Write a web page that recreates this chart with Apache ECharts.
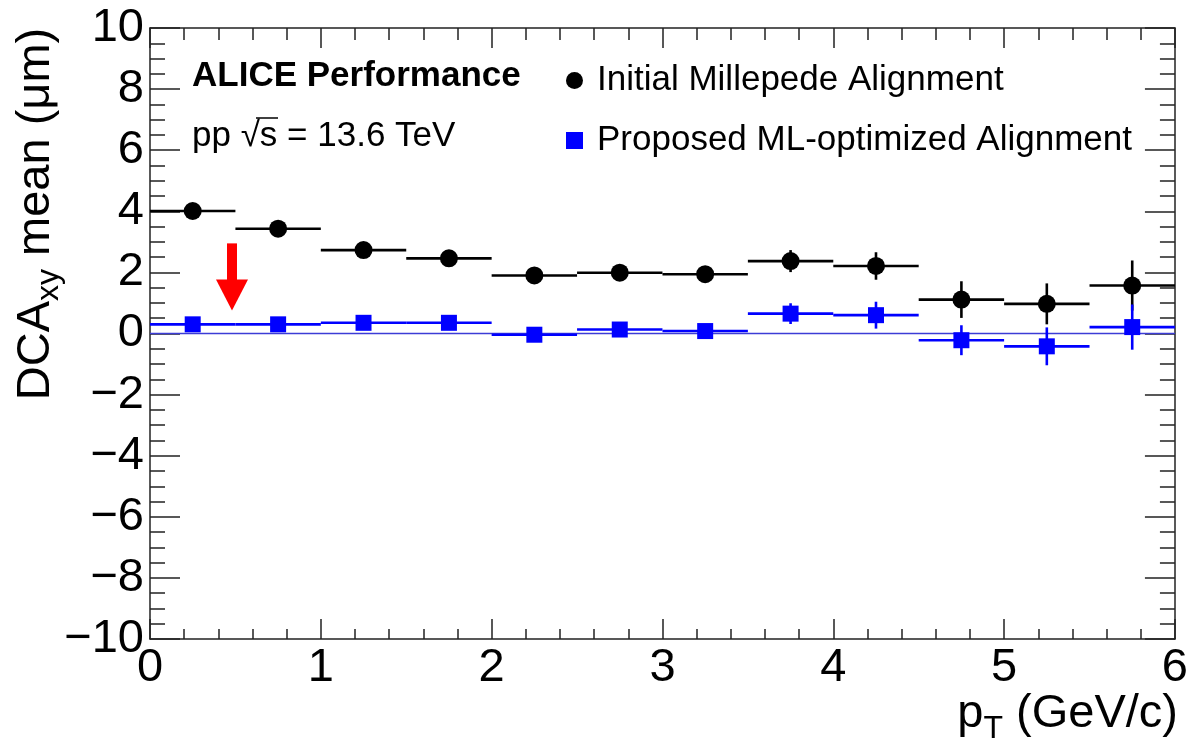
<!DOCTYPE html>
<html>
<head>
<meta charset="utf-8">
<script src="https://cdn.jsdelivr.net/npm/echarts@6/dist/echarts.min.js"></script>
<style>
html,body{margin:0;padding:0;background:#fff;}
#chart{width:1191px;height:755px;}
</style>
</head>
<body>
<div id="chart"></div>
<script>
// ---- data ----
const binCenters = [0.25, 0.75, 1.25, 1.75, 2.25, 2.75, 3.25, 3.75, 4.25, 4.75, 5.25, 5.75];
const binWidth = 0.5;
const milleMean = [4.01, 3.43, 2.73, 2.46, 1.90, 1.99, 1.94, 2.37, 2.21, 1.11, 0.97, 1.57];
const milleErr  = [0.08, 0.09, 0.10, 0.11, 0.12, 0.14, 0.16, 0.36, 0.45, 0.60, 0.67, 0.82];
const mlMean    = [0.30, 0.30, 0.35, 0.35, -0.04, 0.13, 0.08, 0.65, 0.60, -0.22, -0.42, 0.21];
const mlErr     = [0.07, 0.08, 0.09, 0.10, 0.12, 0.14, 0.16, 0.34, 0.44, 0.49, 0.62, 0.74];
const zeroLine  = [[0, 0], [6, 0]];
const arrowPt   = [0.48, 2.95, 0.75];   // x, top, tip
const xTicks = [0, 1, 2, 3, 4, 5, 6];
const yTicks = [-10, -8, -6, -4, -2, 0, 2, 4, 6, 8, 10];
const seriesNames = ['Initial Millepede Alignment', 'Proposed ML-optimized Alignment'];

const FONT = '"Liberation Sans", Arial, Helvetica, sans-serif';
const chart = echarts.init(document.getElementById('chart'), null, {renderer: 'canvas'});

function errData(xs, ys, es) { return xs.map((x, i) => [x, ys[i], es[i]]); }
function ptData(xs, ys) { return xs.map((x, i) => [x, ys[i]]); }

function errRender(color) {
  return function (params, api) {
    const x = api.value(0), y = api.value(1), e = api.value(2);
    const l = api.coord([x - binWidth / 2, y]);
    const r = api.coord([x + binWidth / 2, y]);
    const t = api.coord([x, y + e]);
    const b = api.coord([x, y - e]);
    const st = {stroke: color, lineWidth: 2.6};
    return {type: 'group', children: [
      {type: 'line', shape: {x1: l[0], y1: l[1], x2: r[0], y2: r[1]}, style: st},
      {type: 'line', shape: {x1: t[0], y1: t[1], x2: b[0], y2: b[1]}, style: st}
    ]};
  };
}

const axisLineStyle = {color: '#222', width: 1.5};
const tickStyle = {color: '#222', width: 1.5};
const fmtMinus = v => String(v).replace('-', '\u2212');

function xAxisDef(pos, showLabel, majorLen, minorLen) {
  return {
    type: 'value', position: pos, min: 0, max: 6, interval: 1,
    axisLine: {show: true, onZero: false, lineStyle: axisLineStyle},
    axisTick: {show: true, inside: true, length: majorLen, lineStyle: tickStyle},
    minorTick: {show: true, splitNumber: 5, length: minorLen, lineStyle: tickStyle},
    splitLine: {show: false}, minorSplitLine: {show: false},
    axisLabel: {show: showLabel, fontSize: 47, fontFamily: FONT, color: '#000', margin: 6,
      formatter: v => xTicks.includes(v) ? fmtMinus(v) : ''}
  };
}
function yAxisDef(pos, showLabel) {
  return {
    type: 'value', position: pos, min: -10, max: 10, interval: 2,
    axisLine: {show: true, onZero: false, lineStyle: axisLineStyle},
    axisTick: {show: true, inside: true, length: 30, lineStyle: tickStyle},
    minorTick: {show: true, splitNumber: 4, length: 15, lineStyle: tickStyle},
    splitLine: {show: false}, minorSplitLine: {show: false},
    axisLabel: {show: showLabel, fontSize: 47, fontFamily: FONT, color: '#000', margin: 6,
      formatter: v => yTicks.includes(v) ? fmtMinus(v) : ''}
  };
}

const option = {
  backgroundColor: '#fff',
  animation: false,
  grid: {left: 150, right: 12, top: 28, bottom: 116, containLabel: false},
  xAxis: [xAxisDef('bottom', true, 20, 10), xAxisDef('top', false, 20, 12)],
  yAxis: [yAxisDef('left', true), yAxisDef('right', false)],
  legend: {
    orient: 'vertical', left: 561, top: 58, itemGap: 25,
    itemWidth: 17, itemHeight: 17,
    textStyle: {fontSize: 35, fontFamily: FONT, color: '#000', lineHeight: 35, padding: [0, 0, 0, 9]},
    data: [{name: seriesNames[0], icon: 'circle'}, {name: seriesNames[1], icon: 'rect'}]
  },
  graphic: [
    {type: 'text', x: 192, y: 76, style: {text: 'ALICE Performance', font: 'bold 35px ' + FONT, fill: '#000', verticalAlign: 'middle'}},
    {type: 'text', x: 192, y: 136, style: {text: 'pp \u221As = 13.6 TeV', font: '35px ' + FONT, fill: '#000', verticalAlign: 'middle'}},
    {type: 'line', shape: {x1: 256, y1: 118, x2: 278, y2: 118}, style: {stroke: '#000', lineWidth: 1.5}},
    {type: 'text', x: 36, y: 214, rotation: Math.PI / 2,
      style: {text: '{a|DCA}{s|xy}{a| mean (\u03BCm)}', align: 'center', verticalAlign: 'middle',
        rich: {a: {fontSize: 47, fontFamily: FONT, fill: '#000', lineHeight: 47},
               s: {fontSize: 32, fontFamily: FONT, fill: '#000', lineHeight: 32, padding: [26, 0, 0, 0]}}}},
    {type: 'text', x: 1178, y: 714,
      style: {text: '{a|p}{s|T}{a| (GeV/c)}', align: 'right', verticalAlign: 'middle',
        rich: {a: {fontSize: 47, fontFamily: FONT, fill: '#000', lineHeight: 47},
               s: {fontSize: 32, fontFamily: FONT, fill: '#000', lineHeight: 32, padding: [30, 0, 0, 0]}}}}
  ],
  series: [
    {type: 'line', name: 'zero', data: zeroLine, symbol: 'none', silent: true,
      lineStyle: {color: '#3c3cd6', width: 1.3}, z: 1},
    {type: 'custom', name: seriesNames[0] + ' err', data: errData(binCenters, milleMean, milleErr),
      renderItem: errRender('#000'), encode: {x: 0, y: 1}, z: 2},
    {type: 'scatter', name: seriesNames[0], data: ptData(binCenters, milleMean),
      symbol: 'circle', symbolSize: 18, itemStyle: {color: '#000', opacity: 1}, z: 3},
    {type: 'custom', name: seriesNames[1] + ' err', data: errData(binCenters, mlMean, mlErr),
      renderItem: errRender('#0000ff'), encode: {x: 0, y: 1}, z: 4},
    {type: 'scatter', name: seriesNames[1], data: ptData(binCenters, mlMean),
      symbol: 'rect', symbolSize: 16, itemStyle: {color: '#0000ff', opacity: 1}, z: 5},
    {type: 'custom', name: 'arrow', data: [arrowPt], encode: {x: 0, y: 1}, z: 6,
      renderItem: function (params, api) {
        const x = api.value(0), top = api.coord([x, api.value(1)]), tip = api.coord([x, api.value(2)]);
        const headLen = 31, headHalf = 16, shaftHalf = 5;
        return {type: 'group', children: [
          {type: 'rect', shape: {x: top[0] - shaftHalf, y: top[1], width: 2 * shaftHalf, height: tip[1] - headLen - top[1] + 1},
            style: {fill: '#ff0000'}},
          {type: 'polygon', shape: {points: [[tip[0] - headHalf, tip[1] - headLen], [tip[0] + headHalf, tip[1] - headLen], [tip[0], tip[1]]]},
            style: {fill: '#ff0000'}}
        ]};
      }}
  ]
};
chart.setOption(option);
</script>
</body>
</html>
